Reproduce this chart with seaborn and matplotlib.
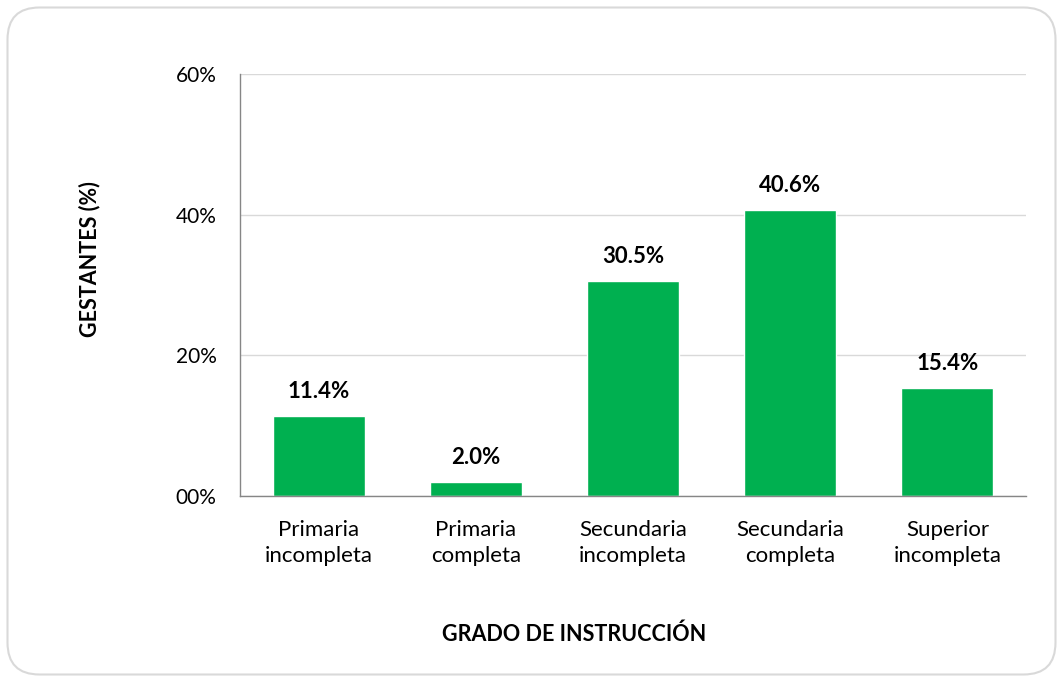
import matplotlib
matplotlib.use("Agg")
import matplotlib.pyplot as plt
import seaborn as sns
import pandas as pd
from matplotlib.patches import FancyBboxPatch
from matplotlib.ticker import FixedLocator

categories = ["Primaria\nincompleta", "Primaria\ncompleta", "Secundaria\nincompleta",
              "Secundaria\ncompleta", "Superior\nincompleta"]
values = [11.4, 2.0, 30.5, 40.6, 15.4]
ytick_values = [0, 20, 40, 60]
ytick_labels = ["00%", "20%", "40%", "60%"]

sns.set_theme(style="white")
plt.rcParams['font.family'] = ['Lato', 'DejaVu Sans']
plt.rcParams['text.color'] = 'black'
plt.rcParams['xtick.color'] = 'black'
plt.rcParams['ytick.color'] = 'black'

fig = plt.figure(figsize=(10.63, 6.82), dpi=100)
border = FancyBboxPatch((7.5, 7.5), 1048, 667, boxstyle="round,pad=0,rounding_size=32",
                        transform=None, facecolor="white", edgecolor="#d9d9d9",
                        linewidth=1.5, zorder=-10)
fig.patches.append(border)

ax = fig.add_axes([0.2258, 0.2727, 0.7394, 0.6188])
ax.set_facecolor("none")
df = pd.DataFrame({"cat": categories, "val": values})
sns.barplot(data=df, x="cat", y="val", color="#00B050", saturation=1, width=0.585, ax=ax)

ax.set_ylim(0, 60)
ax.yaxis.set_major_locator(FixedLocator(ytick_values))
ax.set_yticklabels(ytick_labels, fontsize=15)
ax.tick_params(axis='x', labelsize=16, pad=17, length=0)
for lbl in ax.get_xticklabels():
    lbl.set_linespacing(1.4)
ax.tick_params(axis='y', length=0, pad=17)
ax.grid(axis='y', color="#d9d9d9", linewidth=1)
ax.set_axisbelow(True)
for s in ["top", "right"]:
    ax.spines[s].set_visible(False)
for s in ["left", "bottom"]:
    ax.spines[s].set_color("#868686")
    ax.spines[s].set_linewidth(1)

for i, v in enumerate(values):
    ax.text(i, v + 2.0, f"{v:.1f}%", ha="center", va="bottom", fontsize=16, fontweight="bold", color="black")

ax.set_xlabel("")
ax.set_ylabel("")
fig.text(0.5405, 1 - 634/682, "GRADO DE INSTRUCCIÓN", ha="center", va="center", fontsize=15.5, fontweight="bold")
fig.text(90/1063, 1 - 259/682, "GESTANTES (%)", ha="center", va="center", rotation=90, fontsize=15.5, fontweight="bold")

fig.savefig("out.png", dpi=100)
